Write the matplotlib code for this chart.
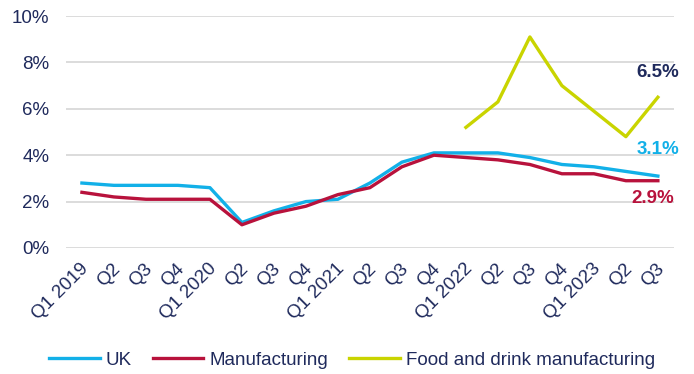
"""Quarterly price growth: UK vs manufacturing vs food and drink manufacturing."""
import matplotlib; matplotlib.use("Agg")
import matplotlib.pyplot as plt
from matplotlib.transforms import ScaledTranslation
import numpy as np

quarters = ["Q1 2019", "Q2", "Q3", "Q4", "Q1 2020", "Q2", "Q3", "Q4",
            "Q1 2021", "Q2", "Q3", "Q4", "Q1 2022", "Q2", "Q3", "Q4",
            "Q1 2023", "Q2", "Q3"]
uk = [2.8, 2.7, 2.7, 2.7, 2.6, 1.1, 1.6, 2.0, 2.1, 2.8, 3.7, 4.1,
      4.1, 4.1, 3.9, 3.6, 3.5, 3.3, 3.1]
manufacturing = [2.4, 2.2, 2.1, 2.1, 2.1, 1.0, 1.5, 1.8, 2.3, 2.6, 3.5, 4.0,
                 3.9, 3.8, 3.6, 3.2, 3.2, 2.9, 2.9]
food_drink = [np.nan] * 12 + [5.2, 6.3, 9.1, 7.0, 5.9, 4.8, 6.5]

NAVY = "#1F2A5C"
C_UK, C_MAN, C_FOOD = "#12B0E8", "#B8123C", "#C9D400"
FS = 13.5

plt.rcParams["font.family"] = ["Liberation Sans", "DejaVu Sans"]
fig = plt.figure(figsize=(6.94, 3.74), dpi=100)
ax = fig.add_axes([0.095, 0.337, 0.876, 0.62])

x = np.arange(len(quarters))
ax.plot(x, uk, color=C_UK, lw=2.4, label="UK", zorder=3)
ax.plot(x, manufacturing, color=C_MAN, lw=2.4, label="Manufacturing", zorder=3)
ax.plot(x, food_drink, color=C_FOOD, lw=2.4, label="Food and drink manufacturing", zorder=3)

ax.set_xlim(-0.5, len(quarters) - 0.5)
ax.set_ylim(0, 10)
ax.set_yticks(range(0, 11, 2))
ax.set_yticklabels([f"{v}%" for v in range(0, 11, 2)])
ax.yaxis.grid(True, color="#D9D9D9", lw=1.3)
ax.set_axisbelow(True)
for s in ax.spines.values(): s.set_visible(False)
ax.tick_params(axis="y", length=0, pad=12, labelsize=FS, labelcolor=NAVY)
ax.set_xticks(x)
ax.set_xticklabels(quarters, rotation=45, ha="right", va="center",
                   rotation_mode="anchor")
ax.tick_params(axis="x", length=0, pad=13, labelsize=FS, labelcolor=NAVY)
shift = ScaledTranslation(4 / 100, 0, fig.dpi_scale_trans)
for lab in ax.get_xticklabels():
    lab.set_transform(lab.get_transform() + shift)

# end labels
last = len(quarters) - 1
ax.annotate(f"{food_drink[-1]:.1f}%", (last, food_drink[-1]), xytext=(0, 18),
            textcoords="offset points", ha="center", va="center",
            fontsize=FS, fontweight="bold", color=NAVY)
ax.annotate(f"{uk[-1]:.1f}%", (last, uk[-1]), xytext=(0, 19),
            textcoords="offset points", ha="center", va="center",
            fontsize=FS, fontweight="bold", color=C_UK)
ax.annotate(f"{manufacturing[-1]:.1f}%", (last, manufacturing[-1]), xytext=(-4, -13),
            textcoords="offset points", ha="center", va="center",
            fontsize=FS, fontweight="bold", color=C_MAN)

fig.legend(loc="center", bbox_to_anchor=(0.507, 0.037), ncol=3, frameon=False,
           fontsize=FS, labelcolor=NAVY, handlelength=2.7, handletextpad=0.3,
           columnspacing=1.15)
fig.savefig("out.png", dpi=100)
